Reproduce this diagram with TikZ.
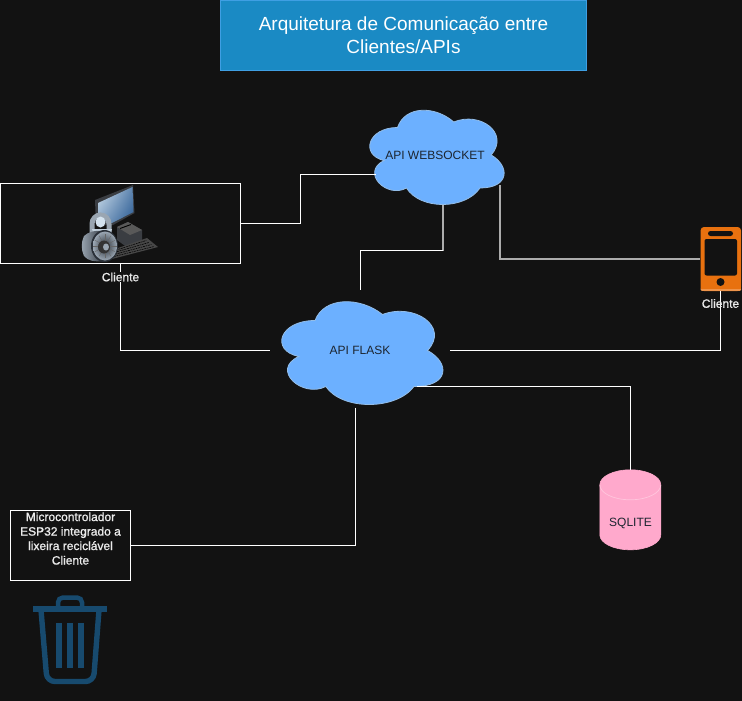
\documentclass[tikz,border=0pt]{standalone}
\usepackage{fontspec}
\setmainfont{Liberation Sans}
\newfontfamily\softbold[FakeBold=1.2]{Liberation Sans}
\usetikzlibrary{calc,positioning,shadings}

\definecolor{canvas}{HTML}{121212}
\definecolor{titlefill}{HTML}{1A8AC4}
\definecolor{titleline}{HTML}{3F9FE3}
\definecolor{cloudfill}{HTML}{6CB0FF}
\definecolor{cloudline}{HTML}{93BDE8}
\definecolor{inkdark}{HTML}{1C2530}
\definecolor{dbfill}{HTML}{FFA9CC}
\definecolor{dbline}{HTML}{FFC6DD}
\definecolor{phonefill}{HTML}{E8710F}
\definecolor{binblue}{HTML}{174A6E}
\definecolor{screenlight}{HTML}{D3E2EE}
\definecolor{screendark}{HTML}{2B5C94}
\definecolor{steel}{HTML}{9AA6B2}
\definecolor{steeldark}{HTML}{2A3038}
\definecolor{pcgrey}{HTML}{3A3D42}

\tikzset{
  x=1pt,y=-1pt,
  wire/.style={draw=white,line width=0.9pt,line join=miter},
  softwire/.style={draw=white!65!canvas,line width=1.2pt},
  label/.style={text=white!92!black,font=\softbold\fontsize{12}{14.5}\selectfont,align=center,inner sep=1pt},
  whitebox/.style={draw=white,line width=0.9pt,fill=canvas,inner sep=0pt},
  apilabel/.style={text=inkdark,font=\fontsize{12}{14.5}\selectfont,inner sep=0pt},
  binstroke/.style={draw=binblue,line width=5pt},
}

% draws the cloud outline into the box w x h at (x,y), then its named node
\newcommand{\apicloud}[6]{
  \begin{scope}[shift={(#2,#3)},x=#4pt,y=-#5pt]
    \filldraw[fill=cloudfill,draw=cloudline,line width=0.8pt]
      (0.25,0.25) .. controls (0.05,0.25) and (0,0.5) .. (0.16,0.55)
      .. controls (0,0.66) and (0.18,0.9) .. (0.31,0.8)
      .. controls (0.4,1) and (0.7,1) .. (0.8,0.8)
      .. controls (1,0.8) and (1,0.6) .. (0.875,0.5)
      .. controls (1,0.3) and (0.8,0.1) .. (0.625,0.2)
      .. controls (0.5,0.05) and (0.3,0.05) .. (0.25,0.25) -- cycle;
  \end{scope}
  \node[apilabel,minimum width=#4pt,minimum height=#5pt] (#1) at ($(#2,#3)+(#4/2,#5/2)$) {#6};
}

\begin{document}
\begin{tikzpicture}
  \useasboundingbox (0,0) rectangle (742,701);
  \fill[canvas] (0,0) rectangle (742,701);

  % title
  \node[draw=titleline,fill=titlefill,line width=1pt,minimum width=366pt,minimum height=70.5pt,
    inner sep=0pt,text=white,align=center,font=\fontsize{19}{23}\selectfont] (title) at (403.5,35.5)
    {Arquitetura de Comunicação entre\\Clientes/APIs};

  % client boxes
  \node[whitebox,minimum width=240pt,minimum height=80pt] (pc) at (120.5,223.5) {};
  \node[whitebox,minimum width=120pt,minimum height=70pt] (esp) at (70.5,545.5) {};
  \node[label] (esplabel) at (70.5,538.5)
    {Microcontrolador\\ESP32 integrado a\\lixeira reciclável\\Cliente};

  \apicloud{ws}{360}{100}{150}{110}{API WEBSOCKET}
  \apicloud{flask}{270}{290.5}{180}{120}{API FLASK}

  % database
  \node[minimum width=61pt,minimum height=80pt,inner sep=0pt] (db) at (630.5,510) {};
  \filldraw[fill=dbfill,draw=dbfill,line width=0.6pt]
    (db.north west) ++(0,15) arc[start angle=180,end angle=0,x radius=30.5pt,y radius=15pt]
    -- ++(0,50) arc[start angle=0,end angle=-180,x radius=30.5pt,y radius=15pt] -- cycle;
  \draw[dbline,line width=0.7pt] (db.north west) ++(0,15)
    arc[start angle=180,end angle=360,x radius=30.5pt,y radius=15pt];
  \node[apilabel] (dblabel) at (630.5,523.5) {SQLITE};

  % phone
  \node[fill=phonefill,rounded corners=3.5pt,minimum width=40.5pt,minimum height=64pt,inner sep=0pt] (phone) at (720.8,259) {};
  \fill[white!25!phonefill,rounded corners=1pt] (700.6,287.5) rectangle (741,290.8);
  \fill[phonefill] (700.6,285) rectangle (741,289.4);
  \fill[canvas,rounded corners=2pt] (704.5,239) rectangle (737,275.5);
  \fill[canvas,rounded corners=2.5pt] (708,231) rectangle (733,236);
  \fill[canvas] (720.5,282) circle[radius=4pt];

  % computer
  \fill[pcgrey] (117,227) -- (128,222) -- (142,230) -- (142,243) -- (128,248) -- (117,240) -- cycle;
  \fill[black!65!white] (117,227) -- (128,222) -- (142,230) -- (130,235) -- cycle;
  \draw[black,line width=0.9pt] (120,228.5) -- (131,224.5);
  \fill[black!72!white] (112,259) -- (158,247) -- (147,238) -- (118,248) -- cycle;
  \foreach \row in {0,1,2,3}
    \draw[black,line width=0.6pt,dash pattern=on 1.8pt off 0.8pt]
      (114+\row*1.5,256.5-\row*2.4) -- (154-\row*2.6,246.5-\row*2);
  \fill[pcgrey] (95,200) -- (133,185) -- (134.5,213) -- (113,225) -- (96,225) -- cycle;
  \shade[upper left=screenlight,upper right=screendark!70!screenlight,lower left=screendark!45!screenlight,lower right=screendark]
    (98,203) -- (132.5,187) -- (133.5,212) -- (112,223) -- (99,219) -- cycle;

  % padlock
  \draw[steel,line width=5pt] (92,236) -- (92,224) arc[start angle=180,end angle=0,x radius=8.5pt,y radius=9pt] -- (109,236);
  \fill[screenlight] (100.5,222) ellipse[x radius=5pt,y radius=5.5pt];
  \fill[screenlight!70!steel] (92,229) -- (112,229) -- (110,236) -- (94,236) -- cycle;
  \shade[left color=steel,right color=steeldark] (84,236) .. controls (88,232) and (95,230) .. (104,231)
    -- (106,261) .. controls (94,262) and (88,261) .. (84,256) .. controls (81,250) and (81,242) .. (84,236) -- cycle;
  \fill[steeldark] (104.5,246) ellipse[x radius=13.5pt,y radius=16pt];
  \shade[inner color=steeldark,outer color=steel] (105,246) ellipse[x radius=12pt,y radius=14.5pt];
  \foreach \ang in {0,30,...,330}
    \draw[black!60!white,line width=0.4pt] (105,246) ++(\ang:5pt) -- ++(\ang:7pt);
  \fill[black!80!white] (104,247) ellipse[x radius=6pt,y radius=6.5pt];
  \fill[steel] (106,247) ellipse[x radius=3pt,y radius=3.5pt];

  % recycling bin
  \draw[binstroke,line width=5.4pt] (33,609) -- (107,609);
  \draw[binstroke,line width=4.5pt,rounded corners=5pt] (58,606) -- (58,597.5) -- (82,597.5) -- (82,606);
  \draw[binstroke,line width=5.4pt,rounded corners=8pt] (41,610) -- (47,681.5) -- (93.5,681.5) -- (99,610);
  \foreach \barx in {59,70,81}
    \fill[binblue] (\barx-3,622.5) rectangle (\barx+3,668);

  % links between the boxes and the APIs
  \coordinate (wsleft) at (375.5,174.5);
  \coordinate (wsbottom) at (443,205);
  \coordinate (wsright) at (500,185);
  \coordinate (wsturn) at (443,250.5);
  \coordinate (flasktop) at (360.5,290);
  \coordinate (flaskbottom) at (355.5,407.5);
  \coordinate (flaskdb) at (417,386.5);
  \coordinate (dbtop) at (630.5,470);

  \draw[wire] (pc.east) -- (300.5,223.5) |- (wsleft);
  \draw[softwire] (wsbottom) -- (wsturn);
  \draw[wire] (wsturn) -| (flasktop);
  \draw[softwire] (wsright) |- (phone.west);
  \draw[wire] (pc.south) |- (flask.west);
  \draw[wire] (flask.east) -| (720.5,291);
  \draw[wire] (flaskdb) -| (dbtop);
  \draw[wire] (flaskbottom) |- (esp.east);

  \node[label,fill=canvas] (pclabel) at (120.5,277) {Cliente};
  \node[label] (phonelabel) at (720.5,303.5) {Cliente};
\end{tikzpicture}
\end{document}
